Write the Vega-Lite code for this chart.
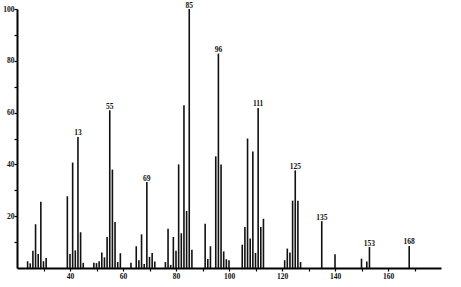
{
  "$schema": "https://vega.github.io/schema/vega-lite/v6.json",
  "width": 424,
  "height": 259,
  "autosize": {"type": "none"},
  "padding": {"left": 17, "top": 9, "right": 20, "bottom": 19},
  "background": "white",
  "config": {"view": {"stroke": null}},
  "data": {"values": [
    {"mz": 24, "i": 2.6}, {"mz": 25, "i": 1.8}, {"mz": 26, "i": 6.7}, {"mz": 27, "i": 16.9},
    {"mz": 28, "i": 5.4}, {"mz": 29, "i": 25.6}, {"mz": 30, "i": 2.6}, {"mz": 31, "i": 3.9},
    {"mz": 39, "i": 27.7}, {"mz": 40, "i": 5.4}, {"mz": 41, "i": 40.7}, {"mz": 42, "i": 6.8},
    {"mz": 43, "i": 50.6, "label": "13"}, {"mz": 44, "i": 13.8}, {"mz": 45, "i": 2},
    {"mz": 49, "i": 2}, {"mz": 50, "i": 1.9}, {"mz": 51, "i": 2.6}, {"mz": 52, "i": 6},
    {"mz": 53, "i": 4.1}, {"mz": 54, "i": 12}, {"mz": 55, "i": 60.9, "label": "55"},
    {"mz": 56, "i": 38}, {"mz": 57, "i": 17.8}, {"mz": 58, "i": 2.3}, {"mz": 59, "i": 5.7},
    {"mz": 63, "i": 2}, {"mz": 65, "i": 8.4}, {"mz": 66, "i": 3}, {"mz": 67, "i": 13},
    {"mz": 68, "i": 1.5}, {"mz": 69, "i": 33.2, "label": "69"}, {"mz": 70, "i": 4.3},
    {"mz": 71, "i": 5.8}, {"mz": 72, "i": 2.5},
    {"mz": 76, "i": 2.3}, {"mz": 77, "i": 15.2}, {"mz": 78, "i": 1.2}, {"mz": 79, "i": 12},
    {"mz": 80, "i": 6.7}, {"mz": 81, "i": 40}, {"mz": 82, "i": 13.4}, {"mz": 83, "i": 62.8},
    {"mz": 84, "i": 22}, {"mz": 85, "i": 100, "label": "85"}, {"mz": 86, "i": 7},
    {"mz": 91, "i": 17.1}, {"mz": 92, "i": 3.5}, {"mz": 93, "i": 8.4}, {"mz": 95, "i": 43.1},
    {"mz": 96, "i": 82.8, "label": "96"}, {"mz": 97, "i": 40}, {"mz": 98, "i": 6.4},
    {"mz": 99, "i": 3.4}, {"mz": 100, "i": 3},
    {"mz": 105, "i": 9}, {"mz": 106, "i": 15.8}, {"mz": 107, "i": 50}, {"mz": 108, "i": 11.4},
    {"mz": 109, "i": 45}, {"mz": 110, "i": 5.8}, {"mz": 111, "i": 61.8, "label": "111"},
    {"mz": 112, "i": 15.8}, {"mz": 113, "i": 19},
    {"mz": 121, "i": 3}, {"mz": 122, "i": 7.5}, {"mz": 123, "i": 6}, {"mz": 124, "i": 26},
    {"mz": 125, "i": 37.7, "label": "125"}, {"mz": 126, "i": 26}, {"mz": 127, "i": 2.3},
    {"mz": 135, "i": 18.1, "label": "135"}, {"mz": 140, "i": 5.3}, {"mz": 150, "i": 3.6},
    {"mz": 152, "i": 2.5}, {"mz": 153, "i": 8.1, "label": "153"}, {"mz": 168, "i": 8.5, "label": "168"}
  ]},
  "encoding": {
    "x": {
      "field": "mz", "type": "quantitative",
      "scale": {"domain": [20, 180], "nice": false, "zero": false},
      "axis": {
        "title": null, "grid": false,
        "values": [30, 40, 50, 60, 70, 80, 90, 100, 110, 120, 130, 140, 150, 160, 170],
        "labelExpr": "datum.value % 20 == 0 ? datum.label : ''",
        "domainColor": "#000", "domainWidth": 2,
        "tickColor": "#000", "tickWidth": 1.2, "tickSize": 3,
        "labelFont": "Liberation Serif", "labelFontWeight": "bold", "labelFontSize": 7.5,
        "labelColor": "#111", "labelPadding": 1
      }
    },
    "y": {
      "field": "i", "type": "quantitative",
      "scale": {"domain": [0, 100], "nice": false},
      "axis": {
        "title": null, "grid": false,
        "values": [10, 20, 30, 40, 50, 60, 70, 80, 90, 100],
        "labelExpr": "datum.value % 20 == 0 ? datum.label : ''",
        "domainColor": "#000", "domainWidth": 2,
        "tickColor": "#000", "tickWidth": 1.2, "tickSize": 3,
        "labelFont": "Liberation Serif", "labelFontWeight": "bold", "labelFontSize": 7.5,
        "labelColor": "#111", "labelPadding": 0
      }
    }
  },
  "layer": [
    {
      "mark": {"type": "rule", "color": "#111", "strokeWidth": 1.6},
      "encoding": {"y2": {"datum": 0}}
    },
    {
      "transform": [{"filter": "datum.label"}],
      "mark": {"type": "text", "font": "Liberation Serif", "fontWeight": "bold", "fontSize": 7.5, "color": "#111", "baseline": "alphabetic", "dy": -1.5},
      "encoding": {"text": {"field": "label"}}
    }
  ]
}
